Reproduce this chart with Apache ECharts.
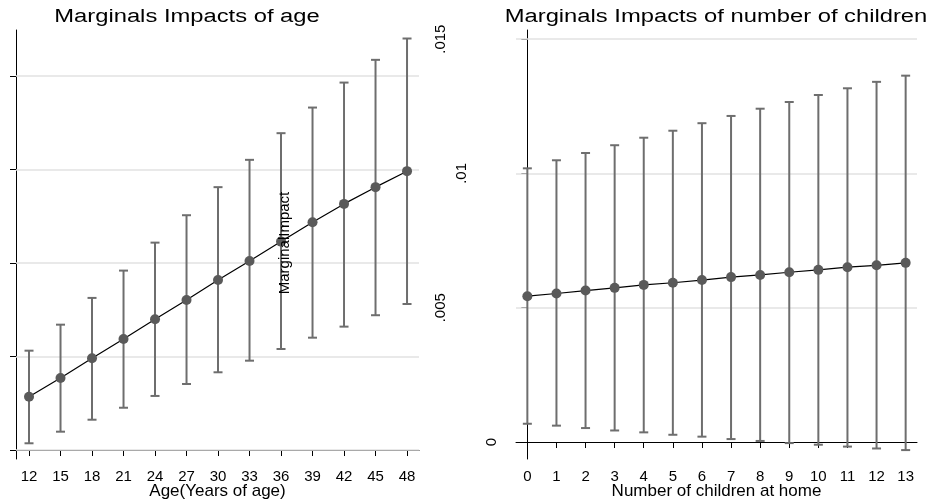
<!DOCTYPE html>
<html>
<head>
<meta charset="utf-8">
<script src="https://cdn.jsdelivr.net/npm/echarts@6.0.0/dist/echarts.min.js"></script>
<style>
  html, body { margin: 0; padding: 0; background: #fff; }
  #main { width: 936px; height: 501px; }
</style>
</head>
<body>
<div id="main"></div>
<script>
// age panel (y axis carries no labels in the original)
const ageCats = [12, 15, 18, 21, 24, 27, 30, 33, 36, 39, 42, 45, 48];
const ageMargin = [0.00057, 0.00077, 0.000981, 0.001187, 0.001398, 0.001604, 0.001818, 0.002021, 0.002228, 0.002435, 0.002631, 0.00281, 0.002981];
const ageUpper = [0.001062, 0.00134, 0.001626, 0.001918, 0.002217, 0.00251, 0.00281, 0.003102, 0.003387, 0.003661, 0.003928, 0.004171, 0.004399];
const ageLower = [0.000072, 0.000196, 0.000324, 0.000452, 0.000578, 0.000706, 0.000831, 0.000955, 0.00108, 0.001201, 0.001319, 0.001441, 0.001561];
const ageTicks = [0, 0.001, 0.002, 0.003, 0.004];

// children panel
const kidCats = [0, 1, 2, 3, 4, 5, 6, 7, 8, 9, 10, 11, 12, 13];
const kidMargin = [0.00543, 0.00553, 0.00564, 0.00574, 0.00585, 0.00593, 0.00603, 0.00614, 0.00622, 0.00632, 0.00641, 0.00651, 0.00658, 0.00667];
const kidUpper = [0.01019, 0.01049, 0.01076, 0.01105, 0.01133, 0.01159, 0.01187, 0.01214, 0.01241, 0.01266, 0.01292, 0.01317, 0.01341, 0.01364];
const kidLower = [0.00068, 0.00061, 0.00052, 0.00043, 0.00036, 0.00027, 0.0002, 0.00011, 0.00004, -0.00004, -0.0001, -0.00017, -0.00024, -0.0003];
const kidTicks = [0, 0.005, 0.01, 0.015];
const kidTickLabels = ['0', '.005', '.01', '.015'];

const FONT = '"Liberation Sans", Arial, sans-serif';
const barColor = '#6e6e6e';
const dotColor = '#5a5a5a';

function errorBar(params, api) {
    var x = api.value(0);
    var lo = api.coord([x, api.value(1)]);
    var hi = api.coord([x, api.value(2)]);
    var w = 4.5;
    var st = { stroke: barColor, lineWidth: 2 };
    return {
        type: 'group',
        children: [
            { type: 'line', shape: { x1: hi[0], y1: hi[1], x2: lo[0], y2: lo[1] }, style: st },
            { type: 'line', shape: { x1: hi[0] - w, y1: hi[1], x2: hi[0] + w, y2: hi[1] }, style: st },
            { type: 'line', shape: { x1: lo[0] - w, y1: lo[1], x2: lo[0] + w, y2: lo[1] }, style: st }
        ]
    };
}

function gridLines(ticks, zeroBlack) {
    return {
        silent: true,
        symbol: 'none',
        animation: false,
        precision: 8,
        z: 1,
        label: { show: false },
        lineStyle: { type: 'solid', color: '#e2e2e2', width: 1.5 },
        data: ticks.map(function (t) {
            var d = { yAxis: t };
            if (zeroBlack && t === 0) d.lineStyle = { color: '#000', width: 1, type: 'solid' };
            return d;
        })
    };
}

// stata places the rotated labels as if they were still horizontal,
// so shorter strings sit closer to the axis
function kidLabel(v) {
    var s = kidTickLabels[kidTicks.indexOf(v)];
    return '{l' + s.length + '|' + s + '}';
}
function shift(px) {
    return { padding: [0, 0, px, 0], fontSize: 15, color: '#000', fontFamily: FONT };
}

var axisLineStyle = { show: true, lineStyle: { color: '#000', width: 1 } };
var tickStyle = { show: true, length: 6, lineStyle: { color: '#000' } };

var myChart = echarts.init(document.getElementById('main'));

var option = {
    animation: false,
    backgroundColor: '#fff',
    textStyle: { fontFamily: FONT },
    graphic: [
        {
            type: 'text', x: 187, y: 17, scaleX: 1.32,
            style: { text: 'Marginals Impacts of age', font: '18px ' + FONT, fill: '#000', textAlign: 'center', textVerticalAlign: 'middle' }
        },
        {
            type: 'text', x: 716, y: 17, scaleX: 1.32,
            style: { text: 'Marginals Impacts of number of children', font: '18px ' + FONT, fill: '#000', textAlign: 'center', textVerticalAlign: 'middle' }
        },
        {
            type: 'text', x: 285, y: 243, rotation: Math.PI / 2, z: 100,
            style: { text: 'MarginalImpact', font: '15px ' + FONT, fill: '#000', textAlign: 'center', textVerticalAlign: 'middle' }
        }
    ],
    grid: [
        { left: 16, top: 30, right: 517, bottom: 42, outerBoundsMode: 'none' },
        { left: 516, top: 30, right: 19, bottom: 42, outerBoundsMode: 'none' }
    ],
    xAxis: [
        {
            gridIndex: 0, type: 'value', min: 10.76, max: 49.14,
            axisLine: axisLineStyle, axisTick: Object.assign({ customValues: ageCats }, tickStyle),
            axisLabel: { customValues: ageCats, fontSize: 15, color: '#000', margin: 10, fontFamily: FONT },
            splitLine: { show: false },
            name: 'Age(Years of age)', nameLocation: 'middle', nameGap: 24, nameMoveOverlap: false,
            nameTextStyle: { fontSize: 17, color: '#000', fontFamily: FONT }
        },
        {
            gridIndex: 1, type: 'value', min: -0.39, max: 13.39,
            axisLine: axisLineStyle, axisTick: Object.assign({ customValues: kidCats }, tickStyle),
            axisLabel: { customValues: kidCats, fontSize: 15, color: '#000', margin: 10, fontFamily: FONT },
            splitLine: { show: false },
            name: 'Number of children at home', nameLocation: 'middle', nameGap: 24, nameMoveOverlap: false,
            nameTextStyle: { fontSize: 17, color: '#000', fontFamily: FONT }
        }
    ],
    yAxis: [
        {
            gridIndex: 0, type: 'value', min: -0.000096, max: 0.00449,
            axisLine: axisLineStyle, axisTick: Object.assign({ customValues: ageTicks }, tickStyle),
            axisLabel: { show: false },
            splitLine: { show: false }
        },
        {
            gridIndex: 1, type: 'value', min: -0.000632, max: 0.01534,
            axisLine: axisLineStyle, axisTick: Object.assign({ customValues: kidTicks }, tickStyle),
            axisLabel: {
                customValues: kidTicks, rotate: 90, fontSize: 15, color: '#000', margin: 17, fontFamily: FONT,
                formatter: kidLabel,
                rich: { l1: shift(0), l3: shift(30), l4: shift(51) }
            },
            splitLine: { show: false }
        }
    ],
    series: [
        {
            type: 'custom', xAxisIndex: 0, yAxisIndex: 0, z: 3,
            renderItem: errorBar,
            data: ageCats.map(function (c, i) { return [c, ageLower[i], ageUpper[i]]; })
        },
        {
            type: 'line', xAxisIndex: 0, yAxisIndex: 0, z: 4,
            data: ageCats.map(function (c, i) { return [c, ageMargin[i]]; }),
            symbol: 'circle', symbolSize: 10,
            itemStyle: { color: dotColor },
            lineStyle: { color: '#000', width: 1.2 },
            markLine: gridLines(ageTicks, false)
        },
        {
            type: 'custom', xAxisIndex: 1, yAxisIndex: 1, z: 3,
            renderItem: errorBar,
            data: kidCats.map(function (c, i) { return [c, kidLower[i], kidUpper[i]]; })
        },
        {
            type: 'line', xAxisIndex: 1, yAxisIndex: 1, z: 4,
            data: kidCats.map(function (c, i) { return [c, kidMargin[i]]; }),
            symbol: 'circle', symbolSize: 10,
            itemStyle: { color: dotColor },
            lineStyle: { color: '#000', width: 1.2 },
            markLine: gridLines(kidTicks, true)
        }
    ]
};

myChart.setOption(option);
</script>
</body>
</html>
